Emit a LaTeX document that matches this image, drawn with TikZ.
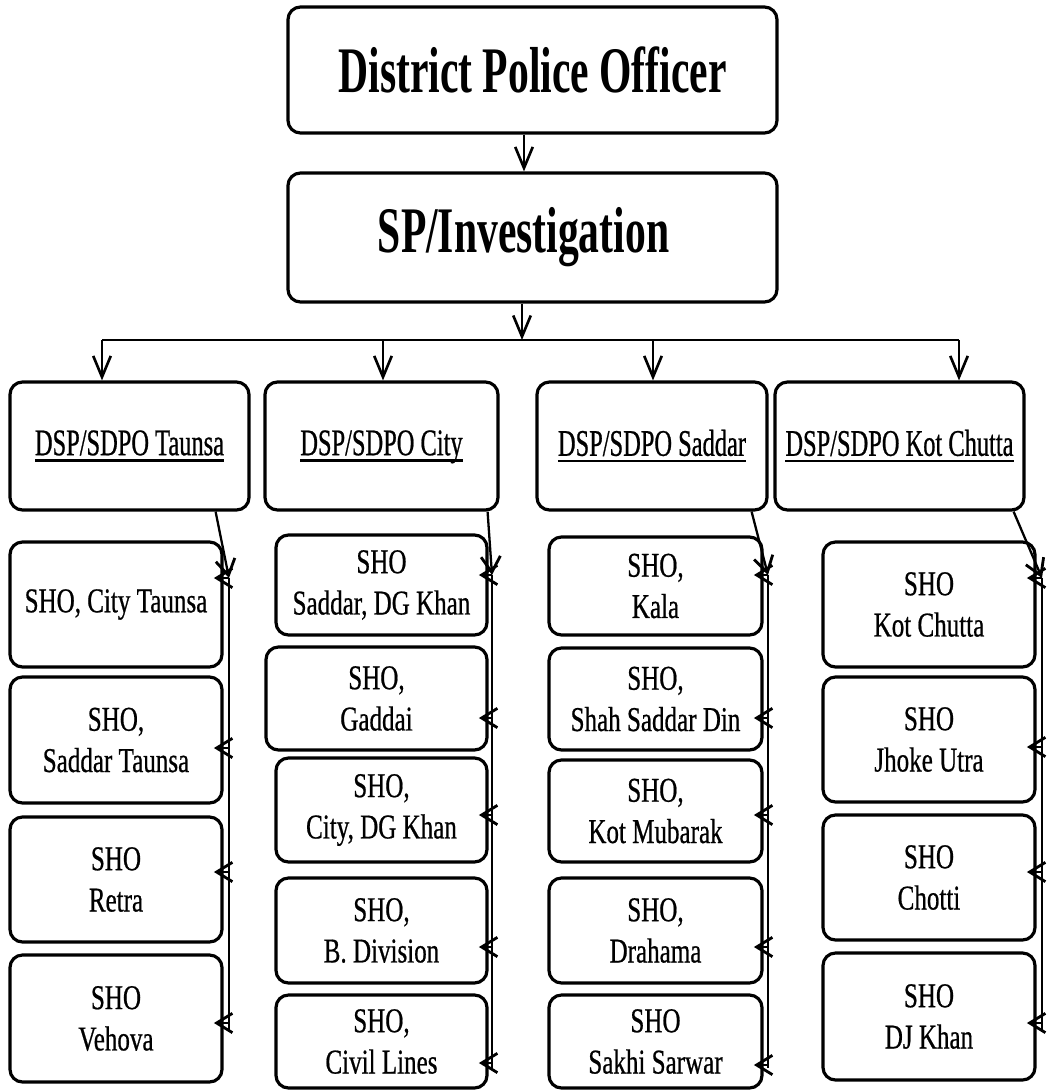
\documentclass[tikz,border=0pt]{standalone}
\usepackage{fontspec}
\setmainfont{Liberation Serif}
\newfontfamily\titlefont{Liberation Serif}[FakeStretch=0.64]
\newfontfamily\dspfont{Liberation Serif}[FakeStretch=0.65,FakeBold=0.6]
\newfontfamily\shofont{Liberation Serif}[FakeStretch=0.72,FakeBold=0.6]
\usetikzlibrary{arrows.meta,calc}
\newcommand\pbox[7]{%
  \node[#1, minimum width={(#5-#3)*0.02cm}, minimum height={(#6-#4)*0.02cm}] (#2) at ({(#3+#5)/2},{(#4+#6)/2}) {#7};}
\newcommand\ulbar[1]{\setbox0\hbox{#1}\dp0=0pt\vtop{\box0\kern2.4pt\hrule height 1.3pt}}
\tikzset{
  box/.style={draw, line width=1.8pt, rounded corners=0.25cm, align=center, inner sep=0pt},
  titlebox/.style={box, font={\titlefont\bfseries\fontsize{37}{44}\selectfont}},
  dspbox/.style={box, font={\dspfont\fontsize{21.4}{26}\selectfont}},
  shobox/.style={box, font={\shofont\fontsize{19.8}{23.5}\selectfont}},
  conn/.style={line width=1.3pt},
  arr/.style={conn, -{Straight Barb[length=12pt,width=10pt,line width=1.5pt]}},
  sarr/.style={conn, -{Straight Barb[length=9pt,width=11pt,line width=1.6pt]}},
  harr/.style={sarr, shorten >=-5.5pt},
}
\begin{document}
\begin{tikzpicture}[x=0.02cm,y=-0.02cm]
\useasboundingbox (0,0) rectangle (1047,1092);
% top boxes
\pbox{titlebox}{dpo}{288}{7}{777}{133}{District Police Officer}
\pbox{titlebox}{sp}{288}{173}{777}{302}{SP/Investigation\kern0.36cm}
% DSP boxes
\pbox{dspbox}{dsp1}{10}{382}{249}{510}{\ulbar{DSP/SDPO Taunsa}}
\pbox{dspbox}{dsp2}{265}{382}{498}{510}{\ulbar{DSP/SDPO City}}
\pbox{dspbox}{dsp3}{537}{382}{767}{510}{\ulbar{DSP/SDPO Saddar}}
\pbox{dspbox}{dsp4}{775}{382}{1024}{510}{\ulbar{DSP/SDPO Kot Chutta}}
% column 1
\pbox{shobox}{s11}{10}{542}{222}{667}{SHO, City Taunsa}
\pbox{shobox}{s12}{10}{677}{222}{803}{SHO,\\Saddar Taunsa}
\pbox{shobox}{s13}{10}{817}{222}{942}{SHO\\Retra}
\pbox{shobox}{s14}{10}{955}{222}{1082}{SHO\\Vehova}
% column 2
\pbox{shobox}{s21}{276}{535}{487}{635}{SHO\\Saddar, DG Khan}
\pbox{shobox}{s22}{266}{647}{487}{750}{SHO,\\Gaddai}
\pbox{shobox}{s23}{276}{758}{487}{862}{SHO,\\City, DG Khan}
\pbox{shobox}{s24}{276}{878}{487}{983}{SHO,\\B. Division}
\pbox{shobox}{s25}{276}{995}{487}{1088}{SHO,\\Civil Lines}
% column 3
\pbox{shobox}{s31}{549}{537}{762}{635}{SHO,\\Kala}
\pbox{shobox}{s32}{549}{648}{762}{750}{SHO,\\Shah Saddar Din}
\pbox{shobox}{s33}{549}{760}{762}{862}{SHO,\\Kot Mubarak}
\pbox{shobox}{s34}{549}{878}{762}{983}{SHO,\\Drahama}
\pbox{shobox}{s35}{549}{995}{762}{1088}{SHO\\Sakhi Sarwar}
% column 4
\pbox{shobox}{s41}{823}{542}{1035}{667}{SHO\\Kot Chutta}
\pbox{shobox}{s42}{823}{677}{1035}{802}{SHO\\Jhoke Utra}
\pbox{shobox}{s43}{823}{815}{1035}{940}{SHO\\Chotti}
\pbox{shobox}{s44}{823}{953}{1035}{1080}{SHO\\DJ Khan}
% top connectors
\draw[arr] (dpo.south -| 524,0) -- (sp.north -| 524,0);
\coordinate (bus) at (522,340);
\coordinate (b1) at (102,340);
\coordinate (b2) at (383,340);
\coordinate (b3) at (653,340);
\coordinate (b4) at (959,340);
\draw[arr] (sp.south -| bus) -- (bus);
\draw[conn] (b1) -- (b4);
\draw[arr] (b1) -- (b1 |- dsp1.north);
\draw[arr] (b2) -- (b2 |- dsp2.north);
\draw[arr] (b3) -- (b3 |- dsp3.north);
\draw[arr] (b4) -- (b4 |- dsp4.north);
% column 1 trunk
\coordinate (t1) at (229,578);
\coordinate (t1e) at (229,1030);
\draw[sarr] ($(dsp1.south east)+(-35,0)$) -- (t1);
\draw[conn] (t1) -- (t1e);
\draw[harr] (t1) -- (t1 -| s11.east);
\coordinate (a12) at (229,748);
\coordinate (a13) at (229,872);
\coordinate (a14) at (229,1023);
\draw[harr] (a12) -- (a12 -| s12.east);
\draw[harr] (a13) -- (a13 -| s13.east);
\draw[harr] (a14) -- (a14 -| s14.east);
% column 2 trunk
\coordinate (t2) at (492,575);
\coordinate (t2e) at (492,1068);
\draw[sarr] ($(dsp2.south east)+(-12,0)$) -- (t2);
\draw[conn] (t2) -- (t2e);
\draw[harr] (t2) -- (t2 -| s21.east);
\coordinate (a22) at (492,718);
\coordinate (a23) at (492,815);
\coordinate (a24) at (492,947);
\coordinate (a25) at (492,1063);
\draw[harr] (a22) -- (a22 -| s22.east);
\draw[harr] (a23) -- (a23 -| s23.east);
\draw[harr] (a24) -- (a24 -| s24.east);
\draw[harr] (a25) -- (a25 -| s25.east);
% column 3 trunk
\coordinate (t3) at (768,575);
\coordinate (t3e) at (768,1068);
\draw[sarr] ($(dsp3.south east)+(-17,0)$) -- (t3);
\draw[conn] (t3) -- (t3e);
\draw[harr] (t3) -- (t3 -| s31.east);
\coordinate (a32) at (768,718);
\coordinate (a33) at (768,815);
\coordinate (a34) at (768,947);
\coordinate (a35) at (768,1065);
\draw[harr] (a32) -- (a32 -| s32.east);
\draw[harr] (a33) -- (a33 -| s33.east);
\draw[harr] (a34) -- (a34 -| s34.east);
\draw[harr] (a35) -- (a35 -| s35.east);
% column 4 trunk
\coordinate (t4) at (1042,578);
\coordinate (t4e) at (1042,1030);
\draw[sarr] ($(dsp4.south east)+(-12,0)$) -- (t4);
\draw[conn] (t4) -- (t4e);
\draw[harr] (t4) -- (t4 -| s41.east);
\coordinate (a42) at (1042,747);
\coordinate (a43) at (1042,872);
\coordinate (a44) at (1042,1023);
\draw[harr] (a42) -- (a42 -| s42.east);
\draw[harr] (a43) -- (a43 -| s43.east);
\draw[harr] (a44) -- (a44 -| s44.east);
\end{tikzpicture}
\end{document}
